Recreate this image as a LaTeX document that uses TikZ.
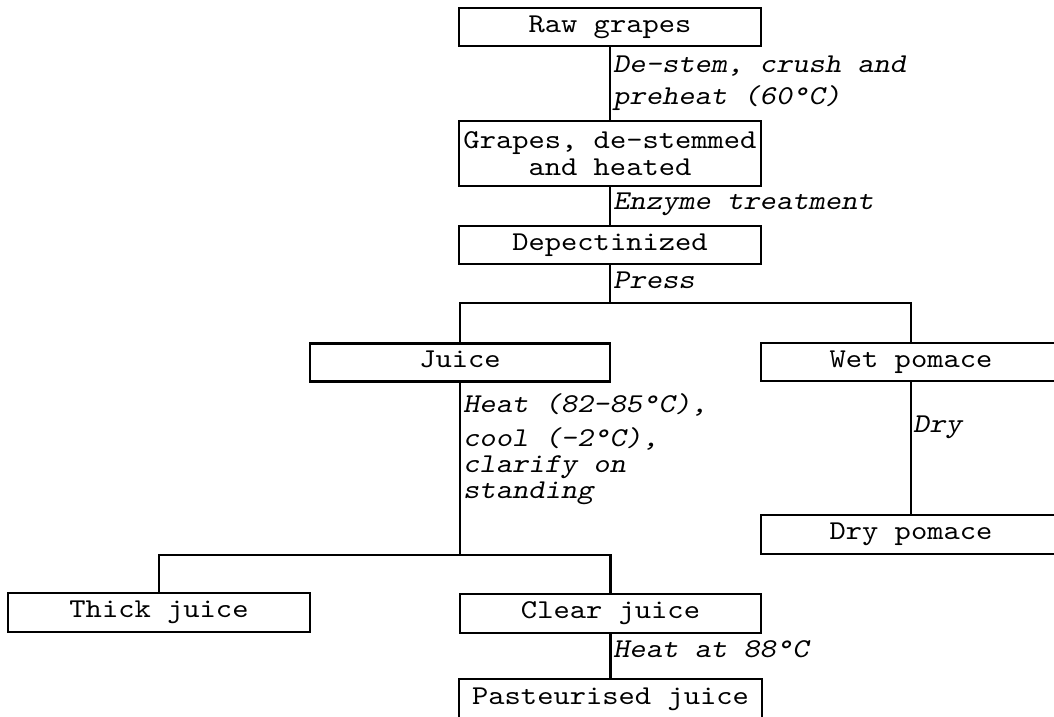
\documentclass[tikz,border=0pt]{standalone}
\usepackage{fontspec}
% typewriter face, widened so that its proportions approach those of Courier
\newfontfamily\typeface{lmmono10-regular.otf}[
  FakeStretch=1.14,
  ItalicFont=lmmonoslant10-regular.otf]
\begin{document}
\begin{tikzpicture}[x=1pt,y=-1pt,
  font=\typeface\fontsize{27.2}{27}\selectfont,
  box/.style={draw, line width=2.4pt, rectangle, inner sep=0pt,
    minimum width=302pt, minimum height=38pt,
    text height=16pt, text depth=6pt},
  link/.style={line width=2.4pt},
  note/.style={anchor=base west, inner sep=0pt,
    font=\typeface\fontsize{27.2}{27}\selectfont\itshape}]
\useasboundingbox (0,0) rectangle (1054,716);
\clip (0,0) rectangle (1054,716);

% process stages
\node[box] (raw) at (610,27) {Raw grapes};
\node[box, minimum height=65pt, text height=, text depth=, align=center] (grapes) at (610,153.5)
  {Grapes, de-stemmed\\and heated};
\node[box] (dep) at (610,245) {Depectinized};
\node[box, minimum width=300pt] (juice) at (460,362.5) {Juice};
\node[box, minimum width=300pt] (wet) at (911,362) {Wet pomace};
\node[box, minimum width=300pt, minimum height=39pt] (drypom) at (911,534.5) {Dry pomace};
\node[box, minimum height=39pt] (thick) at (159,612.5) {Thick juice};
\node[box, minimum width=301pt, minimum height=39pt] (clear) at (610.5,613.5) {Clear juice};
\node[box, minimum width=303pt, minimum height=40pt] (past) at (610.5,699) {Pasteurised juice};

% branching points
\coordinate (split1) at (610,303);
\coordinate (split2) at (460,555);

% connectors
\draw[link] (raw) -- (grapes);
\draw[link] (grapes) -- (dep);
\draw[link] (dep.south) -- (split1);
\draw[link] (juice.north) |- (split1) -| (wet.north);
\draw[link] (juice.south) -- (split2);
\draw[link] (thick.north) |- (split2) -| (clear.north);
\draw[link] (wet) -- (drypom);
\draw[link] (clear) -- (past);

% step descriptions
\node[note] (n1a) at (613,72) {De-stem, crush and};
\node[note] (n1b) at (613,104) {preheat (60°C)};
\node[note] (n2) at (613,209) {Enzyme treatment};
\node[note] (n3) at (613,288) {Press};
\node[note] (n4a) at (463,412) {Heat (82-85°C),};
\node[note] (n4b) at (463,446) {cool (-2°C),};
\node[note] (n4c) at (463,472) {clarify on};
\node[note] (n4d) at (463,498) {standing};
\node[note] (n5) at (913,432) {Dry};
\node[note] (n6) at (613,657) {Heat at 88°C};
\end{tikzpicture}
\end{document}
